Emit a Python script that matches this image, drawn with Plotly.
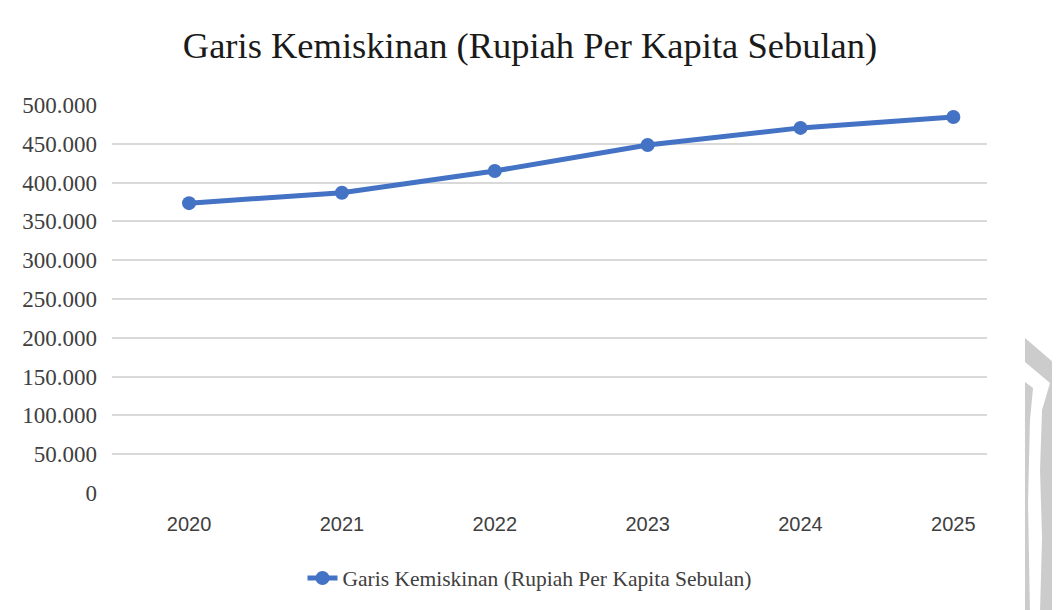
import plotly.graph_objects as go

years = ["2020", "2021", "2022", "2023", "2024", "2025"]
garis_kemiskinan = [373500, 387000, 415000, 448500, 470500, 484500]
y_ticks = [0, 50000, 100000, 150000, 200000, 250000, 300000, 350000, 400000, 450000, 500000]
y_tick_text = ["0", "50.000", "100.000", "150.000", "200.000", "250.000", "300.000",
               "350.000", "400.000", "450.000", "500.000"]
series_name = "Garis Kemiskinan (Rupiah Per Kapita Sebulan)"
title_text = "Garis Kemiskinan (Rupiah Per Kapita Sebulan)"

# page body has an 8px margin; compensate so the figure lands on screen like the reference
OFF = 8
W, H = 1060 - OFF, 610 - OFF
L, R, T, B = 112 - OFF, 73, 105 - OFF, 117
pw, ph = W - L - R, H - T - B


def px(x, y):
    # screen pixel -> paper coords
    x, y = x - OFF, y - OFF
    return (x - L) / pw, (H - B - y) / ph


def path(points):
    pts = [px(x, y) for x, y in points]
    return "M " + " L ".join(f"{a:.4f},{b:.4f}" for a, b in pts) + " Z"


fig = go.Figure()
fig.add_trace(go.Scatter(
    x=years, y=garis_kemiskinan, mode="lines+markers", name=series_name,
    line=dict(color="#4472C4", width=5),
    marker=dict(color="#4472C4", size=14),
    cliponaxis=False,
))

# decorative watermark strips at the right edge
wm1 = [(1025, 338), (1062, 370), (1062, 612), (1060, 610), (1057, 537), (1055, 470),
       (1057, 410), (1058, 376), (1050, 383),
       (1042, 410), (1040, 470), (1042, 537), (1040, 612), (1060, 612)][:0] or \
      [(1025, 338), (1062, 370), (1062, 612), (1040, 612), (1042, 537), (1040, 470),
       (1042, 410), (1050, 383), (1025, 362)]
wm1_inner = [(1062, 612), (1060, 610), (1057, 537), (1055, 470), (1057, 410), (1062, 380)]
wm2 = [(1025, 382), (1033, 388), (1030, 420), (1028, 503), (1030, 612), (1025, 612)]
shapes = []
for pts in (wm1, wm2):
    shapes.append(dict(type="path", xref="paper", yref="paper", path=path(pts),
                       fillcolor="#cccccc", line=dict(width=0), layer="below"))

fig.update_layout(
    width=W, height=H,
    margin=dict(l=L, r=R, t=T, b=B),
    paper_bgcolor="white", plot_bgcolor="white",
    title=dict(text=title_text, x=(530 - OFF) / W, xanchor="center",
               y=1 - (45 - OFF) / H, yanchor="middle",
               font=dict(family="Liberation Serif", size=36.5, color="#1a1a1a")),
    xaxis=dict(type="category", range=[-0.504, 5.22], showgrid=False, zeroline=False,
               showline=False, ticks="", ticklabelstandoff=17,
               tickfont=dict(family="Liberation Sans", size=20, color="#404040")),
    yaxis=dict(range=[0, 500000], tickvals=y_ticks, ticktext=y_tick_text,
               showgrid=True, gridcolor="#d9d9d9", gridwidth=2, zeroline=False,
               showline=False, ticks="", ticklabelstandoff=14,
               tickfont=dict(family="Liberation Serif", size=23, color="#404040")),
    showlegend=True,
    legend=dict(orientation="h", x=(530 - OFF - L) / pw, xanchor="center",
                y=(H - B - (578 - OFF)) / ph, yanchor="middle",
                font=dict(family="Liberation Serif", size=21.5, color="#404040")),
    shapes=shapes,
)

fig.write_html("out.html")
